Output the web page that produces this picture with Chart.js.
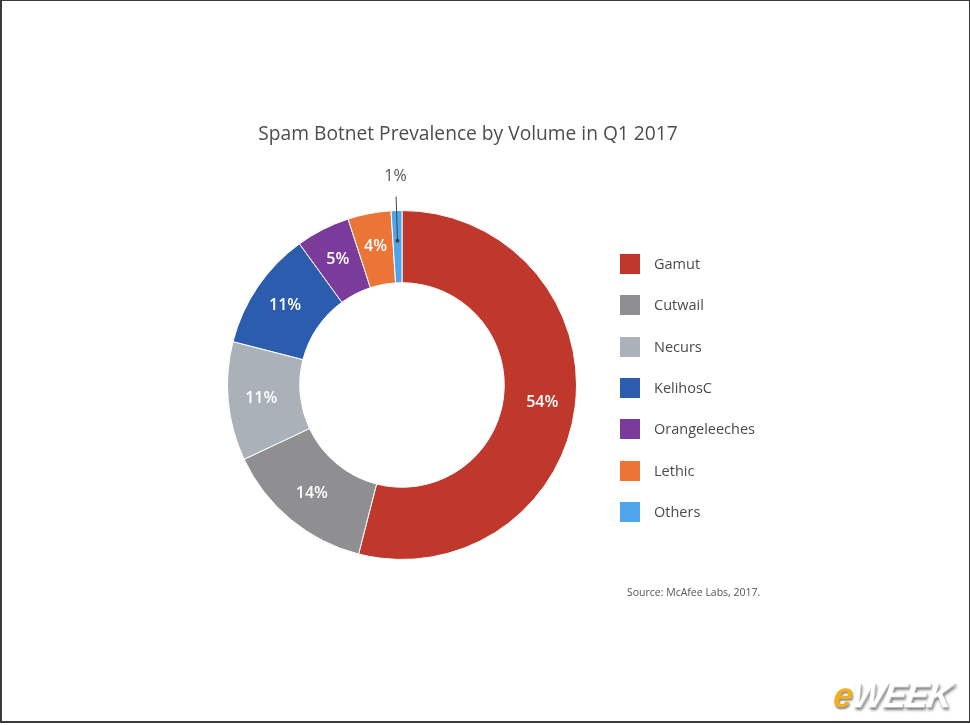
<!DOCTYPE html>
<html>
<head>
<meta charset="utf-8">
<script src="https://cdn.jsdelivr.net/npm/chart.js@4/dist/chart.umd.min.js"></script>
<style>
  html, body { margin: 0; padding: 0; background: #fff; }
  #wrap { position: relative; width: 970px; height: 725px; overflow: hidden; font-family: "Open Sans", sans-serif; }
  #frame { position: absolute; left: 0; top: 0; width: 970px; height: 723px; box-sizing: border-box; border: 1px solid #3a3a3a; border-left-width: 2px; border-bottom-width: 2px; pointer-events: none; }
  #c { position: absolute; left: 0; top: 0; }
  #title { position: absolute; left: 0; width: 936px; top: 119px; text-align: center; font-size: 19.2px; color: #4d4d4d; }
  #legend { position: absolute; left: 620px; top: 254px; }
  .row { position: absolute; left: 0; height: 20px; white-space: nowrap; }
  .box { position: absolute; left: 0; top: 0; width: 20px; height: 20px; }
  .lab { position: absolute; left: 34px; top: 0px; font-size: 14.5px; color: #4a4a4a; line-height: 20px; }
  #source { position: absolute; left: 627px; top: 585px; font-size: 10.5px; color: #555; }
  #logo { position: absolute; left: 834px; top: 675px; font-family: "Liberation Sans", Arial, sans-serif; font-weight: bold; font-style: italic; font-size: 35px; letter-spacing: -1.5px; transform: skewX(-8deg); }
  #logo .e { color: #f2b01e; text-shadow: 1px 2px 2px #888; }
  #logo .w { color: #fff; text-shadow: 1px 1px 0 #bbb, 2px 3px 3px #777; }
</style>
</head>
<body>
<div id="wrap">
  <canvas id="c" width="970" height="725"></canvas>
  <div id="title"></div>
  <div id="legend"></div>
  <div id="source"></div>
  <div id="logo"><span class="e">e</span><span class="w">WEEK</span></div>
  <div id="frame"></div>
</div>
<script>
const titleText = 'Spam Botnet Prevalence by Volume in Q1 2017';
const sourceText = 'Source: McAfee Labs, 2017.';
const categories = ['Gamut', 'Cutwail', 'Necurs', 'KelihosC', 'Orangeleeches', 'Lethic', 'Others'];
const shares = [54, 14, 11, 11, 5, 4, 1];
const sliceColors = ['#c0382c', '#8f8f92', '#abb1b8', '#2c5cae', '#7b3b9b', '#eb7537', '#4ea5ea'];

document.getElementById('title').textContent = titleText;
document.getElementById('source').textContent = sourceText;
const legendEl = document.getElementById('legend');
categories.forEach((name, i) => {
  const row = document.createElement('div');
  row.className = 'row';
  row.style.top = (i * 41.3) + 'px';
  const box = document.createElement('div');
  box.className = 'box';
  box.style.background = sliceColors[i];
  const lab = document.createElement('div');
  lab.className = 'lab';
  lab.textContent = name;
  row.appendChild(box);
  row.appendChild(lab);
  legendEl.appendChild(row);
});

const labelPlugin = {
  id: 'sliceLabels',
  afterDatasetsDraw(chart) {
    const ctx = chart.ctx;
    const meta = chart.getDatasetMeta(0);
    meta.data.forEach((arc, i) => {
      const p = arc.getProps(['x', 'y', 'startAngle', 'endAngle', 'innerRadius', 'outerRadius'], true);
      const mid = (p.startAngle + p.endAngle) / 2;
      const txt = shares[i] + '%';
      ctx.save();
      if (shares[i] >= 2) {
        const r = (p.innerRadius + p.outerRadius) / 2 + 3;
        ctx.fillStyle = '#ffffff';
        ctx.font = '600 16px "Open Sans", sans-serif';
        ctx.textAlign = 'center';
        ctx.textBaseline = 'middle';
        ctx.fillText(txt, p.x + Math.cos(mid) * r, p.y + Math.sin(mid) * r);
      } else {
        const r0 = (p.innerRadius + p.outerRadius) / 2 + 6;
        const r1 = p.outerRadius + 14;
        const r2 = p.outerRadius + 34;
        ctx.strokeStyle = '#444';
        ctx.lineWidth = 1;
        ctx.beginPath();
        ctx.moveTo(p.x + Math.cos(mid) * r0, p.y + Math.sin(mid) * r0);
        ctx.lineTo(p.x + Math.cos(mid) * r1, p.y + Math.sin(mid) * r1);
        ctx.stroke();
        ctx.fillStyle = '#444';
        ctx.beginPath();
        ctx.arc(p.x + Math.cos(mid) * r0, p.y + Math.sin(mid) * r0, 2, 0, Math.PI * 2);
        ctx.fill();
        ctx.fillStyle = '#555';
        ctx.font = '16px "Open Sans", sans-serif';
        ctx.textAlign = 'center';
        ctx.textBaseline = 'middle';
        ctx.fillText(txt, p.x + Math.cos(mid) * r2, p.y + Math.sin(mid) * r2);
      }
      ctx.restore();
    });
  }
};

new Chart(document.getElementById('c'), {
  type: 'doughnut',
  data: {
    labels: categories,
    datasets: [{
      data: shares,
      backgroundColor: sliceColors,
      borderColor: '#ffffff',
      borderWidth: 1,
      hoverOffset: 0
    }]
  },
  options: {
    responsive: false,
    devicePixelRatio: 1,
    animation: false,
    cutout: '58.6%',
    layout: { padding: { left: 227, top: 210, right: 393, bottom: 165 } },
    plugins: {
      legend: { display: false },
      title: { display: false },
      tooltip: { enabled: false }
    },
    events: []
  },
  plugins: [labelPlugin]
});
</script>
</body>
</html>
